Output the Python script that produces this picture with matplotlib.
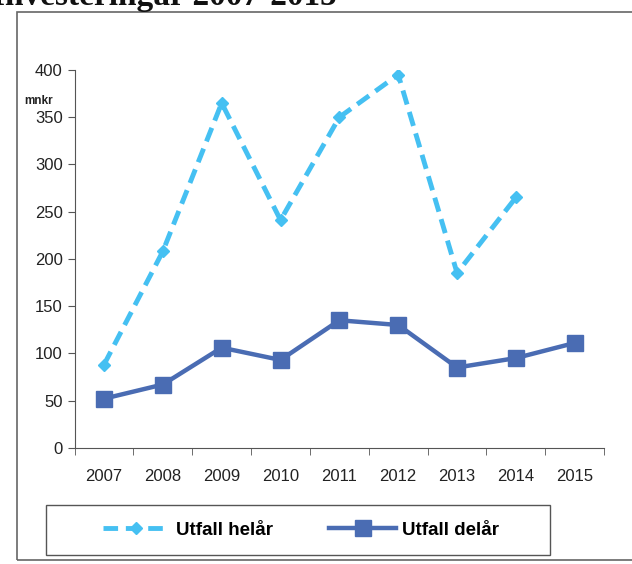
import matplotlib.pyplot as plt
from matplotlib.patches import Rectangle

years = ['2007', '2008', '2009', '2010', '2011', '2012', '2013', '2014', '2015']
helar = [88, 208, 365, 241, 350, 395, 185, 265]
delar = [52, 67, 106, 93, 135, 130, 85, 95, 111]

plt.rcParams['font.family'] = ['Liberation Sans', 'DejaVu Sans']

fig = plt.figure(figsize=(6.32, 5.64), dpi=100)
ax = fig.add_axes([0.118, 0.206, 0.838, 0.670])

l1, = ax.plot(range(len(helar)), helar, color='#45c0f2', lw=3.5, ls=(0, (3, 1.6)),
              marker='D', ms=6, mfc='#45c0f2', mec='#45c0f2', label='Utfall helår')
l2, = ax.plot(range(len(delar)), delar, color='#4a6cb3', lw=3.2,
              marker='s', ms=11, mfc='#4a6cb3', mec='#4a6cb3', label='Utfall delår')

ax.set_xlim(-0.5, len(years) - 0.5)
ax.set_ylim(0, 400)
ax.set_yticks(range(0, 401, 50))
ax.set_xticks(range(len(years)))
ax.set_xticklabels(years)
ax.set_xticks([i + 0.5 for i in range(-1, len(years))], minor=True)
ax.tick_params(axis='x', which='major', length=0, pad=15, labelsize=12, colors='#222222')
ax.tick_params(axis='x', which='minor', length=5, direction='out', color='#555555')
ax.tick_params(axis='y', length=5, direction='out', labelsize=12, colors='#222222', color='#555555')
for s in ['top', 'right']:
    ax.spines[s].set_visible(False)
for s in ['left', 'bottom']:
    ax.spines[s].set_color('#555555')

fig.text(0.038, 0.815, 'mnkr', fontsize=8.5, fontweight='bold', color='#222222')

# title cut off at the top of the scan
fig.text(-0.012, 0.992, 'Investeringar 2007-2015', family='Liberation Serif',
         fontsize=24, fontweight='bold', va='baseline', color='#111111')

# chart frame
fig.add_artist(Rectangle((0.027, 0.007), 1.0, 0.972, transform=fig.transFigure,
                         fill=False, ec='#666666', lw=1.2))

# legend box
fig.add_artist(Rectangle((0.073, 0.016), 0.797, 0.089, transform=fig.transFigure,
                         fill=False, ec='#555555', lw=1.0))
fig.legend(handles=[l1, l2], loc='center', bbox_to_anchor=(0.476, 0.060),
           ncol=2, frameon=False, prop={'weight': 'bold', 'size': 13.5},
           handlelength=3.6, columnspacing=3.0, handletextpad=0.3)

fig.savefig('out.png', dpi=100, facecolor='white')
